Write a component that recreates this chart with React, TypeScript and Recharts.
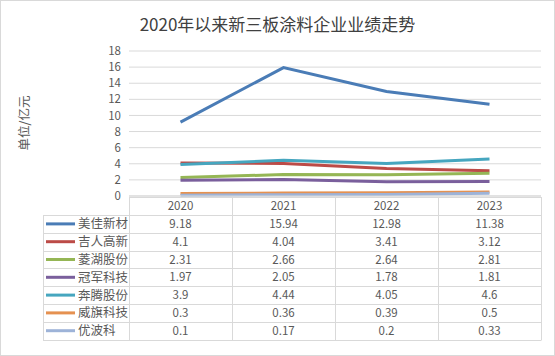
import React from 'react';
import { LineChart, Line, XAxis, YAxis, CartesianGrid } from 'recharts';

const categories = ['2020', '2021', '2022', '2023'];
const seriesNames = ['美佳新材', '吉人高新', '菱湖股份', '冠军科技', '奔腾股份', '威旗科技', '优波科'];
const meijia = [9.18, 15.94, 12.98, 11.38];
const jiren = [4.1, 4.04, 3.41, 3.12];
const linghu = [2.31, 2.66, 2.64, 2.81];
const guanjun = [1.97, 2.05, 1.78, 1.81];
const benteng = [3.9, 4.44, 4.05, 4.6];
const weiqi = [0.3, 0.36, 0.39, 0.5];
const youbo = [0.1, 0.17, 0.2, 0.33];
const seriesValues = [meijia, jiren, linghu, guanjun, benteng, weiqi, youbo];
const seriesColors = ['#4A7CB6', '#BC4B47', '#95B655', '#7A5F9C', '#46A6BF', '#E59150', '#9DB3D8'];
const yTicks = [0, 2, 4, 6, 8, 10, 12, 14, 16, 18];

const data = categories.map((c, i) => {
  const row: Record<string, string | number> = { year: c };
  seriesNames.forEach((n, k) => {
    row[n] = seriesValues[k][i];
  });
  return row;
});

const W = 555;
const H = 356;
const PLOT_LEFT = 129;
const PLOT_RIGHT = 541;
const TABLE_LEFT = 43;
const TABLE_TOP = 197;
const HEADER_H = 18;
const ROW_H = 17.8;
const GRID = '#d9d9d9';
const TEXT = '#595959';
const FONT = '"Noto Sans CJK SC", "Liberation Sans", sans-serif';

function DataTable() {
  const colW = (PLOT_RIGHT - PLOT_LEFT) / categories.length;
  const bottom = TABLE_TOP + HEADER_H + ROW_H * seriesNames.length;
  const lines: React.ReactNode[] = [];
  // header top
  lines.push(<line key="ht" x1={PLOT_LEFT} x2={PLOT_RIGHT} y1={TABLE_TOP + 0.5} y2={TABLE_TOP + 0.5} stroke={GRID} />);
  // row lines
  for (let r = 0; r <= seriesNames.length; r++) {
    const y = Math.round(TABLE_TOP + HEADER_H + ROW_H * r) + 0.5;
    lines.push(<line key={'r' + r} x1={TABLE_LEFT} x2={PLOT_RIGHT} y1={y} y2={y} stroke={GRID} />);
  }
  // column lines
  for (let c = 0; c <= categories.length; c++) {
    const x = Math.round(PLOT_LEFT + colW * c) + 0.5;
    lines.push(<line key={'c' + c} x1={x} x2={x} y1={TABLE_TOP} y2={Math.round(bottom) + 0.5} stroke={GRID} />);
  }
  lines.push(
    <line key="lb" x1={TABLE_LEFT + 0.5} x2={TABLE_LEFT + 0.5} y1={Math.round(TABLE_TOP + HEADER_H) + 0.5} y2={Math.round(bottom) + 0.5} stroke={GRID} />
  );
  const texts: React.ReactNode[] = [];
  categories.forEach((c, i) => {
    texts.push(
      <text key={'h' + i} x={PLOT_LEFT + colW * (i + 0.5)} y={TABLE_TOP + HEADER_H / 2 + 4} textAnchor="middle" fontSize={11.5} fill={TEXT}>
        {c}
      </text>
    );
  });
  seriesNames.forEach((n, r) => {
    const cy = TABLE_TOP + HEADER_H + ROW_H * (r + 0.5);
    texts.push(
      <line key={'k' + r} x1={46} x2={75} y1={cy} y2={cy} stroke={seriesColors[r]} strokeWidth={3} />
    );
    texts.push(
      <text key={'n' + r} x={78} y={cy + 4.5} fontSize={12.5} fill={TEXT}>
        {n}
      </text>
    );
    seriesValues[r].forEach((v, i) => {
      texts.push(
        <text key={'v' + r + '-' + i} x={PLOT_LEFT + colW * (i + 0.5)} y={cy + 4} textAnchor="middle" fontSize={11.5} fill={TEXT}>
          {String(v)}
        </text>
      );
    });
  });
  return (
    <svg width={W} height={H} style={{ position: 'absolute', left: 0, top: 0, fontFamily: FONT, pointerEvents: 'none' }}>
      {lines}
      {texts}
    </svg>
  );
}

export default function App() {
  return (
    <div style={{ position: 'fixed', left: 0, top: 0, width: W, height: H, background: '#fff', fontFamily: FONT }}>
      <div style={{ position: 'absolute', left: 0, top: 0 }}>
        <LineChart width={W} height={H} data={data} margin={{ top: 51, right: W - PLOT_RIGHT, bottom: 130, left: 0 }}>
          <CartesianGrid horizontal vertical={false} stroke={GRID} strokeDasharray="" />
          <XAxis
            dataKey="year"
            height={30}
            tick={false}
            tickLine={false}
            axisLine={{ stroke: GRID }}
            padding={{ left: 51.5, right: 51.5 }}
          />
          <YAxis
            width={PLOT_LEFT}
            domain={[0, 18]}
            ticks={yTicks}
            interval={0}
            axisLine={false}
            tickLine={false}
            tick={{ fontSize: 11.5, fill: TEXT, fontFamily: FONT }}
          />
          {seriesNames.map((n, k) => (
            <Line
              key={n}
              type="linear"
              dataKey={n}
              stroke={seriesColors[k]}
              strokeWidth={3}
              dot={false}
              activeDot={false}
              isAnimationActive={false}
            />
          ))}
        </LineChart>
      </div>
      <DataTable />
      <div
        style={{
          position: 'absolute',
          left: 0,
          width: W,
          top: 12,
          textAlign: 'center',
          fontSize: 17,
          color: '#404040',
          lineHeight: '24px',
          whiteSpace: 'nowrap',
        }}
      >
        2020年以来新三板涂料企业业绩走势
      </div>
      <div
        style={{
          position: 'absolute',
          left: 24,
          top: 123,
          transform: 'translate(-50%, -50%) rotate(-90deg)',
          fontSize: 12.5,
          color: TEXT,
          whiteSpace: 'nowrap',
          lineHeight: '16px',
        }}
      >
        单位/亿元
      </div>
      <div
        style={{
          position: 'absolute',
          left: 0,
          top: 0,
          width: W,
          height: H,
          boxSizing: 'border-box',
          border: '1px solid #d9d9d9',
          pointerEvents: 'none',
        }}
      />
    </div>
  );
}
